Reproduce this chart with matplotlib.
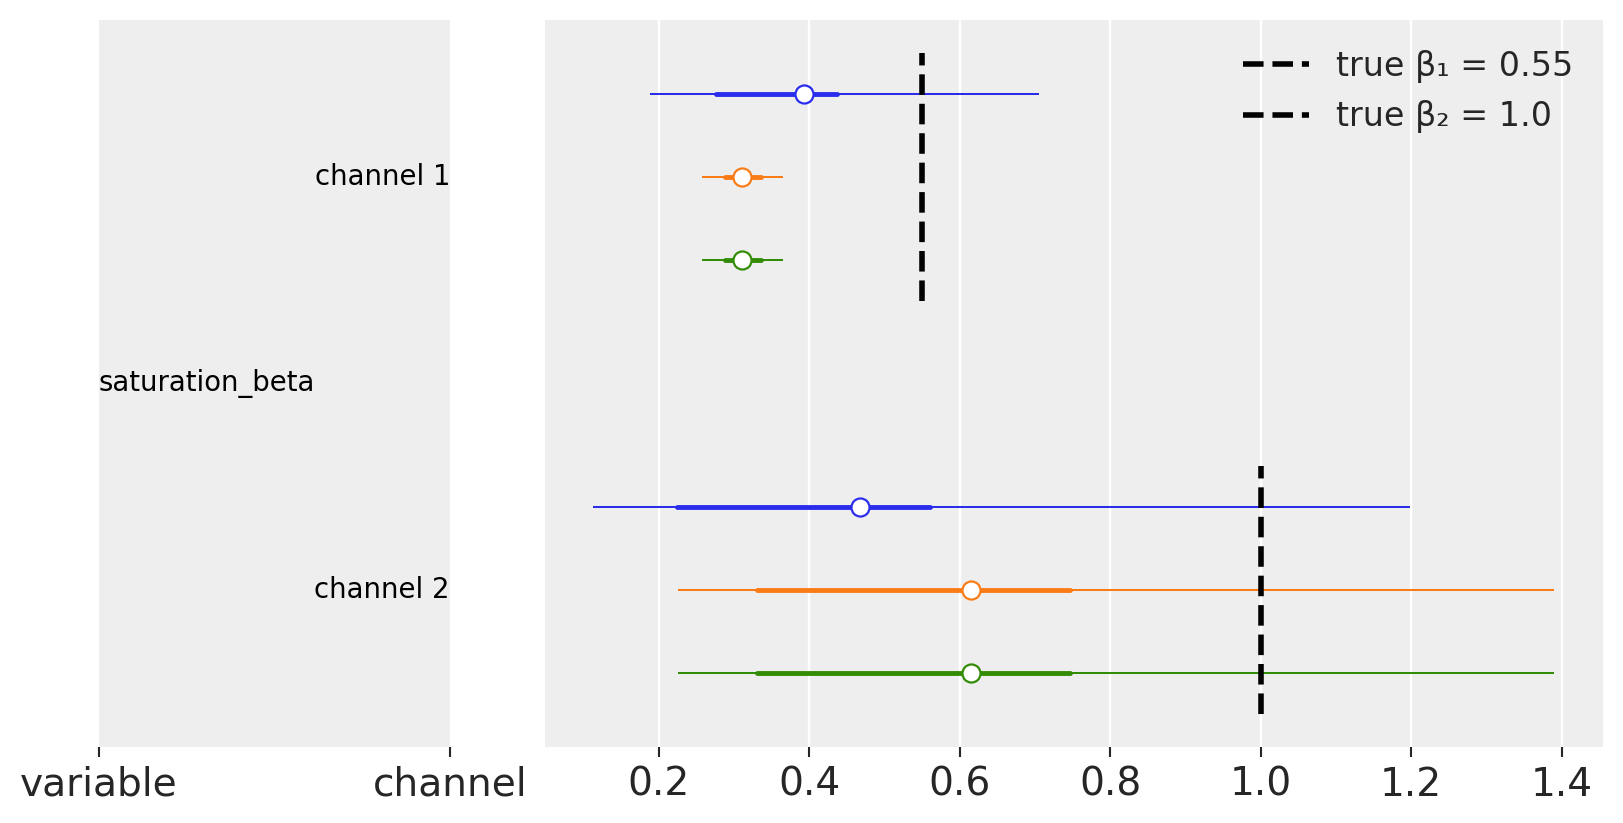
import numpy as np
import matplotlib
matplotlib.use("Agg")
import matplotlib.pyplot as plt

# forest plot values (order: blue, orange, green)
channels = ["channel 1", "channel 2"]
variable = "saturation_beta"
colors = ["#2a2eec", "#fa7c17", "#328c06"]

ch1_median = [0.393, 0.311, 0.311]
ch1_hdi94 = [(0.188, 0.705), (0.257, 0.365), (0.257, 0.365)]
ch1_hdi50 = [(0.276, 0.437), (0.288, 0.336), (0.288, 0.336)]

ch2_median = [0.467, 0.615, 0.615]
ch2_hdi94 = [(0.112, 1.198), (0.226, 1.390), (0.226, 1.390)]
ch2_hdi50 = [(0.224, 0.561), (0.330, 0.746), (0.330, 0.746)]

true_beta = [0.55, 1.0]
true_labels = ["true β₁ = 0.55", "true β₂ = 1.0"]

xticks = [0.2, 0.4, 0.6, 0.8, 1.0, 1.2, 1.4]

W, H = 1623, 823
fig = plt.figure(figsize=(W / 100, H / 100), dpi=100)
bg = "#eeeeee"
txt = "#262626"

bottom = 1 - 747 / H
height = (747 - 20) / H
ax_lab = fig.add_axes([99 / W, bottom, (450 - 99) / W, height])
ax = fig.add_axes([545 / W, bottom, (1603 - 545) / W, height], sharey=ax_lab)

for a in (ax_lab, ax):
    a.set_facecolor(bg)
    for s in a.spines.values():
        s.set_visible(False)
    a.tick_params(axis="x", length=7.5, width=1.5, color=txt, labelsize=28.2,
                  labelcolor=txt, pad=6)
    a.tick_params(axis="y", left=False, labelleft=False)

# rows: blue on top inside each channel block
ypos = {"channel 1": [7, 6, 5], "channel 2": [2, 1, 0]}
blocks = [
    ("channel 1", ch1_median, ch1_hdi94, ch1_hdi50),
    ("channel 2", ch2_median, ch2_hdi94, ch2_hdi50),
]
for ch, med, h94, h50 in blocks:
    for i, c in enumerate(colors):
        y = ypos[ch][i]
        ax.plot(h94[i], [y, y], color=c, lw=1.45, solid_capstyle="butt", zorder=3)
        ax.plot(h50[i], [y, y], color=c, lw=3.5, solid_capstyle="round", zorder=3)
        ax.plot(med[i], y, "o", color=c, mfc="white", mec=c, ms=13, mew=1.6, zorder=4)

# true values as dashed vertical lines
ax.vlines(true_beta[0], 4.5, 7.5, colors="black", linestyles="--", lw=4, zorder=5,
          label=true_labels[0])
ax.vlines(true_beta[1], -0.5, 2.5, colors="black", linestyles="--", lw=4, zorder=5,
          label=true_labels[1])

ax.set_xlim(0.0486, 1.455)
ax.set_ylim(-0.9, 7.9)
ax.set_xticks(xticks)
ax.set_xticklabels([f"{t:.1f}" for t in xticks])
ax.grid(axis="x", color="white", lw=1.7)
ax.grid(axis="y", visible=False)
ax.set_axisbelow(True)

leg = ax.legend(loc="upper right", bbox_to_anchor=(0.997, 0.9955), frameon=False,
                fontsize=24, handlelength=2.0, borderaxespad=0.4, labelspacing=0.52)
for t in leg.get_texts():
    t.set_color(txt)

# label column axes
ax_lab.set_xlim(0, 1)
ax_lab.set_xticks([0, 1])
ax_lab.set_xticklabels(["variable", "channel"])
ax_lab.grid(False)
ax_lab.text(0, 3.5, variable, ha="left", va="center", fontsize=19.8, color="black")
for ch in channels:
    ax_lab.text(1, ypos[ch][1], ch, ha="right", va="center", fontsize=19.8, color="black")

fig.savefig("out.png", dpi=100)
